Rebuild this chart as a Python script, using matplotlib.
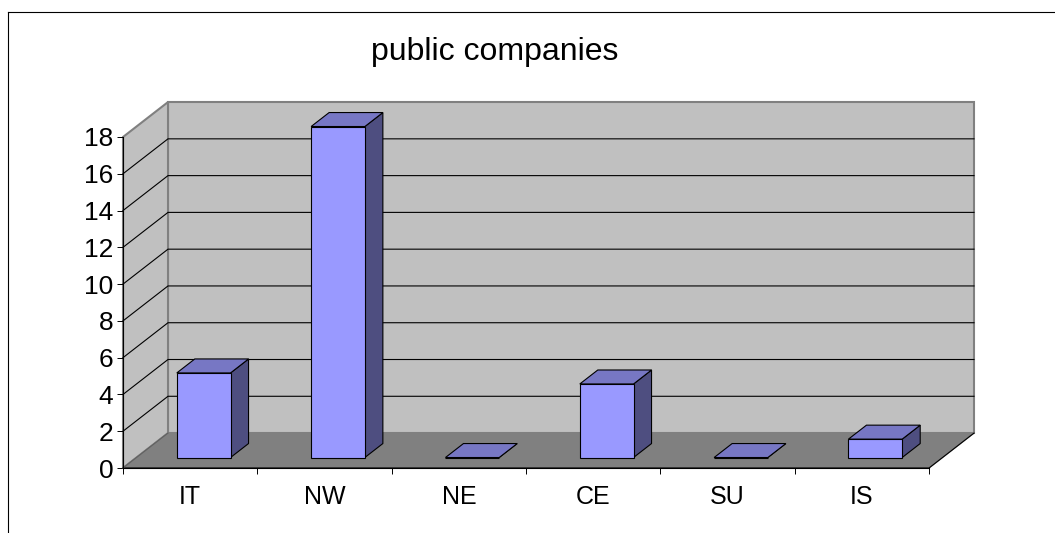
"""Excel style 3D column chart: public companies by area."""

import matplotlib
matplotlib.use("Agg")
import matplotlib.pyplot as plt
from matplotlib.lines import Line2D
from matplotlib.patches import Polygon

categories = ["IT", "NW", "NE", "CE", "SU", "IS"]
values = [4.6, 18, 0, 4, 0, 1]
y_ticks = [0, 2, 4, 6, 8, 10, 12, 14, 16, 18]
title = "public companies"

# 3D look: shift of the back plane in data units
DEPTH_X = 0.335
DEPTH_Y = 1.9
BAR_WIDTH = 0.4
BAR_FRONT = 0.3
BAR_BACK = 0.7

WALL = "#C0C0C0"
FLOOR = "#808080"
BAR_FACE = "#9999FF"
BAR_TOP = "#7777C4"
BAR_SIDE = "#4E4E80"

plt.rcParams["font.family"] = ["Liberation Sans", "DejaVu Sans"]

W, H = 1055, 533
fig = plt.figure(figsize=(W / 100, H / 100), dpi=100)
fig.patch.set_facecolor("white")
ax = fig.add_axes([123 / W, (H - 468) / H, 806 / W, 331 / H])
ax.patch.set_visible(False)
ax.set_xlim(0, len(categories))
ax.set_ylim(0, y_ticks[-1])


def pt(x, v, d):
    # point at depth d (0 = front, 1 = back)
    return (x + d * DEPTH_X, v + d * DEPTH_Y)


def poly(points, face, edge, lw=0.8, z=2):
    ax.add_patch(Polygon(points, closed=True, facecolor=face, edgecolor=edge,
                         linewidth=lw, zorder=z, clip_on=False, joinstyle="miter"))


n = len(categories)
top = y_ticks[-1]

# Walls and floor
poly([pt(0, 0, 1), pt(n, 0, 1), pt(n, top, 1), pt(0, top, 1)], WALL, FLOOR, 1.5, 1)
poly([pt(0, 0, 0), pt(0, 0, 1), pt(0, top, 1), pt(0, top, 0)], WALL, FLOOR, 1.5, 1)
poly([pt(0, 0, 0), pt(n, 0, 0), pt(n, 0, 1), pt(0, 0, 1)], FLOOR, FLOOR, 1.0, 1.5)

# Gridlines on both walls, the top one is just the grey wall edge
for t in y_ticks[1:-1]:
    a, b, c = pt(0, t, 0), pt(0, t, 1), pt(n, t, 1)
    ax.plot([a[0], b[0], c[0]], [a[1], b[1], c[1]], color="black", lw=0.8,
            zorder=1.2, clip_on=False, solid_joinstyle="miter")

# Floor front and right edges
a, b, c = pt(0, 0, 0), pt(n, 0, 0), pt(n, 0, 1)
ax.plot([a[0], b[0], c[0]], [a[1], b[1], c[1]], color="black", lw=0.8,
        zorder=1.6, clip_on=False)
a, b = pt(0, 0, 0), pt(0, 0, 1)
ax.plot([a[0], b[0]], [a[1], b[1]], color="#606060", lw=0.8, zorder=1.6, clip_on=False)

# Bars
for i, v in enumerate(values):
    x0 = i + 0.5 - BAR_WIDTH / 2
    x1 = i + 0.5 + BAR_WIDTH / 2
    poly([pt(x1, 0, BAR_FRONT), pt(x1, 0, BAR_BACK), pt(x1, v, BAR_BACK), pt(x1, v, BAR_FRONT)],
         BAR_SIDE, "black", 0.8, 3)
    poly([pt(x0, v, BAR_FRONT), pt(x1, v, BAR_FRONT), pt(x1, v, BAR_BACK), pt(x0, v, BAR_BACK)],
         BAR_TOP, "black", 0.8, 3)
    poly([pt(x0, 0, BAR_FRONT), pt(x1, 0, BAR_FRONT), pt(x1, v, BAR_FRONT), pt(x0, v, BAR_FRONT)],
         BAR_FACE, "black", 0.8, 3)

# Axes
for side in ["top", "right"]:
    ax.spines[side].set_visible(False)
ax.spines["left"].set_linewidth(0.8)
ax.spines["bottom"].set_linewidth(0.8)
ax.spines["left"].set_zorder(1.7)
ax.spines["bottom"].set_zorder(1.7)
ax.set_yticks(y_ticks)
ax.set_xticks(range(n + 1))
ax.set_xticklabels([])
ax.set_xticks([i + 0.5 for i in range(n)], minor=True)
ax.set_xticklabels(categories, minor=True)
ax.tick_params(axis="x", which="major", length=4.5, width=0.7)
ax.tick_params(axis="x", which="minor", length=0, labelsize=18, pad=12.5)
ax.tick_params(axis="y", length=4.5, width=0.7, labelsize=19, pad=2.5)

fig.text(495 / W, 1 - 52 / H, title, fontsize=23, ha="center", va="center")

# Chart area border, only top and left visible
fig.add_artist(Line2D([8 / W, 8 / W], [0, 1 - 12 / H], color="black", lw=0.8))
fig.add_artist(Line2D([8 / W, 1], [1 - 12 / H, 1 - 12 / H], color="black", lw=0.8))

fig.savefig("out.png", dpi=100)
